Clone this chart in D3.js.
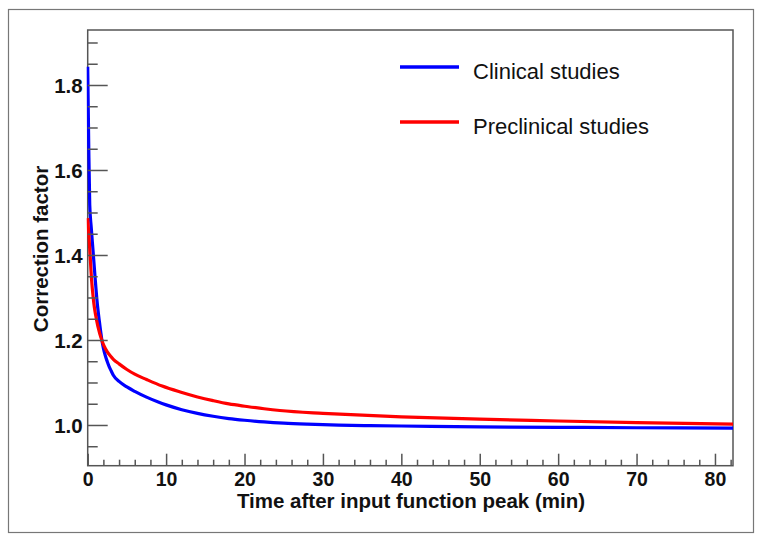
<!DOCTYPE html>
<html>
<head>
<meta charset="utf-8">
<script src="https://cdn.jsdelivr.net/npm/d3@7"></script>
<style>
  html, body { margin: 0; padding: 0; background: #fff; }
  svg { display: block; font-family: Arial, "Liberation Sans", sans-serif; }
</style>
</head>
<body>
<div id="chart"></div>
<script>
// ---- data ----
const timeClinical = [0, 0.13, 0.26, 0.45, 0.68, 0.95, 1.2, 1.5, 1.79, 2.0, 2.25, 2.5, 2.75, 3.0, 3.27, 4, 5, 6, 7.5, 9, 10, 12, 14, 16, 18, 20, 22.5, 25, 28, 32, 36, 40, 50, 60, 70, 82.3];
const clinical     = [1.843, 1.66, 1.518, 1.465, 1.41, 1.345, 1.29, 1.242, 1.202, 1.181, 1.163, 1.149, 1.137, 1.127, 1.117, 1.1025, 1.0895, 1.079, 1.0655, 1.054, 1.0473, 1.0360, 1.0273, 1.0205, 1.0151, 1.0111, 1.0071, 1.0042, 1.0019, 0.9998, 0.9984, 0.9976, 0.9955, 0.9945, 0.9935, 0.9925];
const timePreclinical = [0, 0.15, 0.3, 0.5, 0.7, 0.85, 1.0, 1.3, 1.79, 2.1, 2.5, 2.9, 3.27, 4, 5, 6, 7.5, 9.5, 11.8, 14, 16, 18, 20.3, 22.5, 24.5, 30, 35, 40, 50, 60, 70, 82.3];
const preclinical     = [1.487, 1.447, 1.402, 1.34, 1.30, 1.277, 1.26, 1.232, 1.200, 1.1854, 1.172, 1.1621, 1.1546, 1.1438, 1.1306, 1.1195, 1.107, 1.0915, 1.0776, 1.066, 1.0572, 1.0495, 1.0435, 1.0382, 1.0341, 1.0275, 1.023, 1.0193, 1.0136, 1.0094, 1.0056, 1.0019];
const seriesNames = ["Clinical studies", "Preclinical studies"];
const seriesColors = ["#0000ff", "#ff0000"];
const xMajorTicks = [0, 10, 20, 30, 40, 50, 60, 70, 80];
const xMinorTicks = [2, 4, 6, 8, 12, 14, 16, 18, 22, 24, 26, 28, 32, 34, 36, 38, 42, 44, 46, 48, 52, 54, 56, 58, 62, 64, 66, 68, 72, 74, 76, 78, 82];
const yMajorTicks = [1.0, 1.2, 1.4, 1.6, 1.8];
const yMinorTicks = [0.95, 1.05, 1.1, 1.15, 1.25, 1.3, 1.35, 1.45, 1.5, 1.55, 1.65, 1.7, 1.75, 1.85, 1.9];
const xTitle = "Time after input function peak (min)";
const yTitle = "Correction factor";

// ---- layout ----
const W = 764, H = 543;
const L = 87.7, R = 733, T = 30, B = 465.7;

const svg = d3.select("#chart").append("svg").attr("width", W).attr("height", H);
svg.append("rect").attr("width", W).attr("height", H).attr("fill", "#fff");
svg.append("rect").attr("x", 8.5).attr("y", 9.5).attr("width", 745).attr("height", 523)
  .attr("fill", "none").attr("stroke", "#777").attr("stroke-width", 1.2);

const x = d3.scaleLinear().domain([0, 82.3]).range([L, R]);
const y = d3.scaleLinear().domain([0.9042, 1.9294]).range([B, T]);

// plot frame
svg.append("rect").attr("x", L).attr("y", T).attr("width", R - L).attr("height", B - T)
  .attr("fill", "none").attr("stroke", "#555").attr("stroke-width", 1.5);

// clip
svg.append("clipPath").attr("id", "clip").append("rect")
  .attr("x", L - 1).attr("y", T).attr("width", R - L + 1).attr("height", B - T);

// curves
const line = d3.line().x(d => x(d[0])).y(d => y(d[1])).curve(d3.curveMonotoneX);
const seriesData = [
  d3.zip(timeClinical, clinical),
  d3.zip(timePreclinical, preclinical)
];
const g = svg.append("g").attr("clip-path", "url(#clip)");
seriesData.forEach((s, i) => {
  g.append("path").datum(s).attr("d", line).attr("fill", "none")
    .attr("stroke", seriesColors[i]).attr("stroke-width", 3.2)
    .attr("stroke-linejoin", "round");
});

// x axis
const xAxisMajor = svg.append("g").attr("transform", `translate(0,${B})`)
  .call(d3.axisBottom(x).tickValues(xMajorTicks).tickSize(-12).tickSizeOuter(0).tickFormat(d3.format("d")));
const xAxisMinor = svg.append("g").attr("transform", `translate(0,${B})`)
  .call(d3.axisBottom(x).tickValues(xMinorTicks).tickSize(-6).tickSizeOuter(0).tickFormat(""));
[xAxisMajor, xAxisMinor].forEach(a => {
  a.select(".domain").remove();
  a.selectAll("line").attr("stroke", "#555").attr("stroke-width", 1.5);
});
xAxisMajor.selectAll("text").attr("y", 20.5).attr("dy", 0)
  .attr("font-size", 19.5).attr("font-weight", "bold").attr("fill", "#111")
  .attr("font-family", "Arial, 'Liberation Sans', sans-serif");

// y axis
const yAxisMajor = svg.append("g").attr("transform", `translate(${L},0)`)
  .call(d3.axisLeft(y).tickValues(yMajorTicks).tickSize(-20).tickSizeOuter(0).tickPadding(5).tickFormat(d3.format(".1f")));
const yAxisMinor = svg.append("g").attr("transform", `translate(${L},0)`)
  .call(d3.axisLeft(y).tickValues(yMinorTicks).tickSize(-10).tickSizeOuter(0).tickFormat(""));
[yAxisMajor, yAxisMinor].forEach(a => {
  a.select(".domain").remove();
  a.selectAll("line").attr("stroke", "#555").attr("stroke-width", 1.5);
});
yAxisMajor.selectAll("text").attr("x", -5).attr("dy", 7.5)
  .attr("font-size", 20.5).attr("font-weight", "bold").attr("fill", "#111")
  .attr("font-family", "Arial, 'Liberation Sans', sans-serif");

// axis titles
svg.append("text").attr("x", 411).attr("y", 508).attr("text-anchor", "middle")
  .attr("font-size", 20.5).attr("font-weight", "bold").attr("fill", "#111").text(xTitle);
svg.append("text").attr("transform", "translate(48,249) rotate(-90)").attr("text-anchor", "middle")
  .attr("font-size", 20.5).attr("font-weight", "bold").attr("fill", "#111").text(yTitle);

// legend
const legendY = [67, 122];
seriesNames.forEach((name, i) => {
  svg.append("line").attr("x1", 400).attr("x2", 459).attr("y1", legendY[i]).attr("y2", legendY[i])
    .attr("stroke", seriesColors[i]).attr("stroke-width", 3.5);
  svg.append("text").attr("x", 473).attr("y", legendY[i] + 11.5)
    .attr("font-size", 22).attr("fill", "#111").text(name);
});
</script>
</body>
</html>
